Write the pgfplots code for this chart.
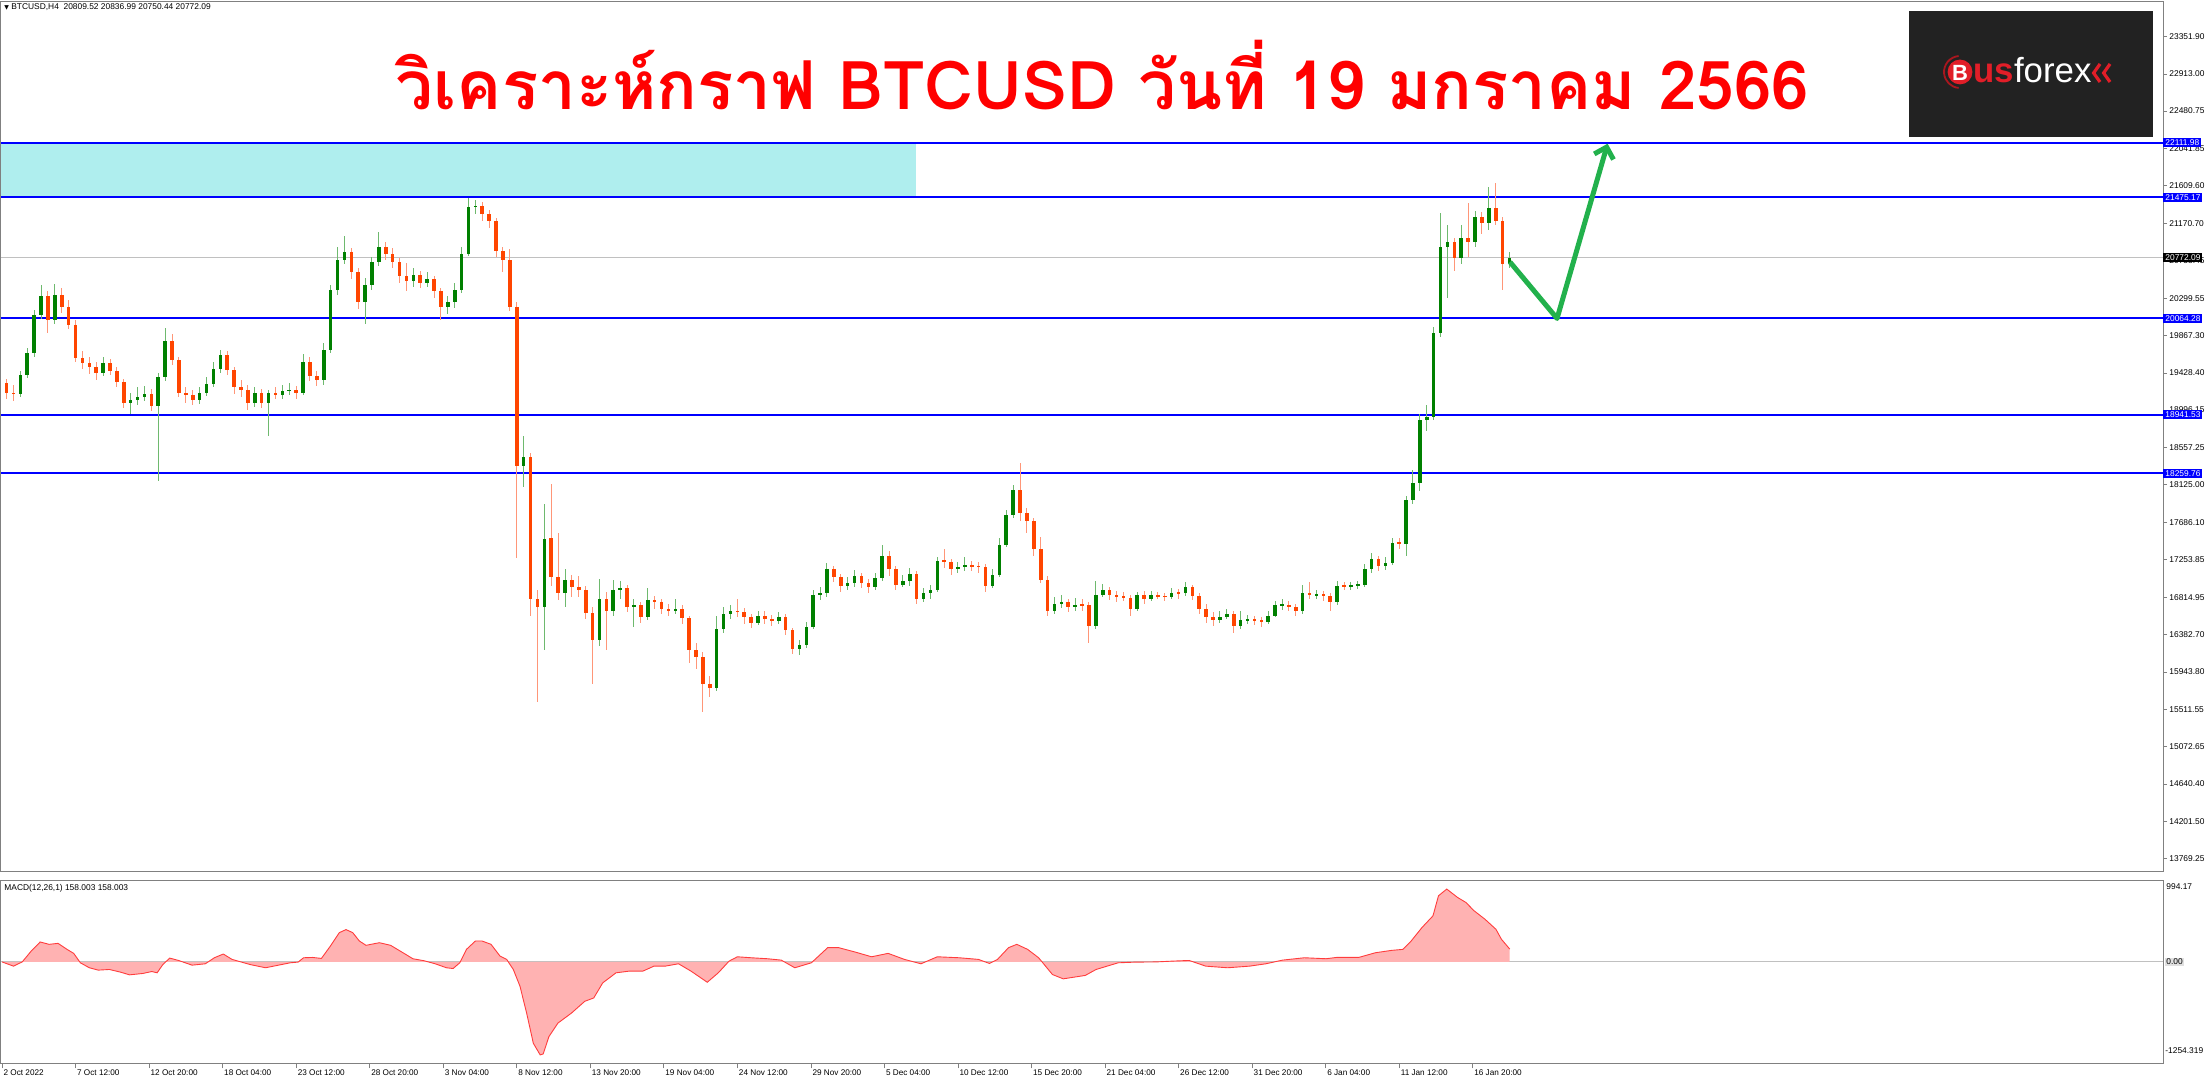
\documentclass[border=0pt]{standalone}
\usepackage{pgfplots}
\pgfplotsset{compat=1.18}
\usepackage{pgfplotstable}
\usepackage{fontspec}
\setmainfont{Liberation Sans}
\newfontfamily\thaifont[Script=Thai]{Loma}
\newfontfamily\dejavu{DejaVu Sans}
\usetikzlibrary{arrows.meta}
\definecolor{upbody}{RGB}{0,128,0}
\definecolor{upwick}{RGB}{110,185,110}
\definecolor{dnbody}{RGB}{255,69,0}
\definecolor{dnwick}{RGB}{255,150,120}
\definecolor{zone}{RGB}{175,238,238}
\definecolor{mtblue}{RGB}{0,0,255}
\definecolor{arrowgreen}{RGB}{34,177,76}
\definecolor{framegray}{RGB}{128,128,128}
\definecolor{logobg}{RGB}{34,34,34}
\definecolor{logored}{RGB}{225,30,40}
\definecolor{macdfill}{RGB}{255,178,178}
\definecolor{macdline}{RGB}{255,60,60}
\definecolor{titlered}{RGB}{255,0,0}
\definecolor{curgray}{RGB}{192,192,192}

\pgfplotstableread{
x o h l c
2 19310 19360 19120 19200
5 19200 19290 19100 19180
8 19180 19450 19150 19400
11 19400 19720 19370 19660
14 19660 20160 19620 20100
17 20100 20450 20060 20320
20 20320 20380 19900 20050
23 20050 20460 20000 20340
26 20340 20420 20130 20200
29 20200 20280 19940 19990
32 19990 20050 19560 19600
35 19600 19680 19480 19540
38 19540 19620 19420 19500
41 19500 19560 19350 19430
44 19430 19610 19390 19540
47 19540 19590 19400 19450
50 19450 19500 19260 19320
53 19320 19360 19020 19080
56 19080 19200 18950 19110
59 19110 19260 19060 19150
62 19150 19280 19100 19180
65 19180 19240 18980 19040
68 19040 19430 18170 19380
71 19380 19950 19330 19800
74 19800 19880 19520 19580
77 19580 19620 19150 19200
80 19200 19260 19080 19170
83 19170 19230 19050 19110
86 19110 19270 19070 19200
89 19200 19380 19160 19300
92 19300 19560 19260 19480
95 19480 19700 19430 19640
98 19640 19690 19410 19460
101 19460 19500 19180 19270
104 19270 19350 19150 19230
107 19230 19290 19000 19080
110 19080 19260 19030 19190
113 19190 19240 19020 19080
116 19080 19230 18690 19190
119 19190 19270 19120 19170
122 19170 19290 19130 19220
125 19220 19310 19170 19230
128 19230 19280 19120 19200
131 19200 19650 19170 19560
134 19560 19610 19330 19390
137 19390 19450 19280 19350
140 19350 19780 19290 19700
143 19700 20450 19660 20390
146 20390 20900 20340 20750
149 20750 21020 20700 20840
152 20840 20880 20520 20600
155 20600 20650 20180 20250
158 20250 20530 20000 20450
161 20450 20780 20400 20720
164 20720 21075 20680 20900
167 20900 20960 20740 20820
170 20820 20880 20650 20720
173 20720 20770 20480 20560
176 20560 20710 20380 20500
179 20500 20650 20430 20570
182 20570 20620 20420 20480
185 20480 20600 20430 20520
188 20520 20560 20300 20380
191 20380 20420 20050 20200
194 20200 20330 20120 20250
197 20250 20480 20190 20400
200 20400 20900 20360 20820
203 20820 21464 20790 21360
206 21360 21450 21280 21380
209 21380 21420 21200 21280
212 21280 21330 21120 21200
215 21200 21240 20780 20850
218 20850 20900 20600 20740
221 20740 20870 20150 20200
224 20200 20250 17270 18350
227 18350 18700 18100 18450
230 18450 18500 16600 16800
233 16800 16900 15600 16700
236 16700 17900 16200 17500
239 17500 18130 16950 17050
242 17050 17560 16780 16860
245 16860 17150 16700 17020
248 17020 17080 16820 16940
251 16940 17060 16820 16900
254 16900 16950 16560 16630
257 16630 16700 15810 16320
260 16320 17030 16250 16800
263 16800 16880 16200 16650
266 16650 17020 16600 16900
269 16900 17000 16800 16920
272 16920 16960 16640 16700
275 16700 16790 16470 16720
278 16720 16760 16520 16590
281 16590 16920 16550 16780
284 16780 16830 16680 16760
287 16760 16800 16620 16680
290 16680 16740 16600 16660
293 16660 16790 16620 16680
296 16680 16720 16500 16570
299 16570 16600 16050 16200
302 16200 16280 15980 16120
305 16120 16180 15482 15800
308 15800 15900 15650 15760
311 15760 16600 15720 16450
314 16450 16700 16400 16620
317 16620 16730 16560 16660
320 16660 16790 16590 16640
323 16640 16690 16500 16580
326 16580 16620 16460 16520
329 16520 16660 16490 16600
332 16600 16650 16500 16560
335 16560 16610 16480 16540
338 16540 16640 16500 16580
341 16580 16620 16380 16430
344 16430 16460 16150 16210
347 16210 16320 16140 16260
350 16260 16530 16230 16470
353 16470 16900 16440 16840
356 16840 16930 16780 16860
359 16860 17210 16820 17140
362 17140 17180 16990 17050
365 17050 17090 16880 16950
368 16950 17050 16900 16980
371 16980 17130 16940 17060
374 17060 17100 16920 16980
377 16980 17030 16860 16930
380 16930 17100 16900 17040
383 17040 17424 17010 17300
386 17300 17360 17060 17150
389 17150 17180 16900 16960
392 16960 17070 16930 17000
395 17000 17160 16950 17090
398 17090 17120 16740 16800
401 16800 16920 16760 16860
404 16860 16960 16800 16900
407 16900 17290 16880 17240
410 17240 17380 17160 17230
413 17230 17260 17080 17140
416 17140 17230 17100 17170
419 17170 17290 17120 17190
422 17190 17240 17120 17180
425 17180 17230 17100 17170
428 17170 17200 16880 16950
431 16950 17150 16920 17080
434 17080 17500 17050 17430
437 17430 17830 17400 17770
440 17770 18120 17740 18060
443 18060 18380 17700 17800
446 17800 17860 17560 17700
449 17700 17740 17300 17380
452 17380 17520 16980 17020
455 17020 17060 16600 16650
458 16650 16820 16620 16740
461 16740 16840 16690 16760
464 16760 16800 16640 16700
467 16700 16810 16660 16730
470 16730 16790 16650 16720
473 16720 16760 16280 16480
476 16480 17000 16440 16840
479 16840 16970 16820 16900
482 16900 16940 16780 16840
485 16840 16890 16760 16830
488 16830 16880 16770 16810
491 16810 16840 16600 16680
494 16680 16880 16650 16840
497 16840 16890 16740 16800
500 16800 16890 16770 16840
503 16840 16880 16790 16830
506 16830 16870 16770 16820
509 16820 16920 16790 16870
512 16870 16910 16800 16860
515 16860 16990 16830 16930
518 16930 16960 16780 16830
521 16830 16860 16620 16680
524 16680 16740 16520 16590
527 16590 16640 16480 16550
530 16550 16650 16520 16590
533 16590 16680 16560 16620
536 16620 16660 16400 16480
539 16480 16660 16450 16550
542 16550 16610 16500 16560
545 16560 16600 16490 16540
548 16540 16590 16470 16530
551 16530 16650 16500 16600
554 16600 16770 16580 16720
557 16720 16790 16670 16730
560 16730 16770 16650 16700
563 16700 16740 16600 16650
566 16650 16960 16620 16860
569 16860 16990 16800 16840
572 16840 16900 16790 16850
575 16850 16890 16770 16830
578 16830 16870 16660 16760
581 16760 17000 16730 16950
584 16950 16990 16900 16940
587 16940 16990 16900 16950
590 16950 17010 16910 16960
593 16960 17200 16930 17140
596 17140 17330 17100 17260
599 17260 17300 17120 17180
602 17180 17280 17130 17220
605 17220 17500 17190 17450
608 17450 17510 17380 17440
611 17440 18000 17300 17950
614 17950 18300 17900 18150
617 18150 18950 18050 18880
620 18880 19050 18750 18920
623 18920 19960 18880 19900
626 19900 21290 19850 20900
629 20900 21150 20300 20960
632 20960 21000 20620 20770
635 20770 21150 20700 21000
638 21000 21415 20780 20950
641 20950 21320 20900 21250
644 21250 21300 21050 21180
647 21180 21600 21100 21350
650 21350 21640 21150 21200
653 21200 21250 20400 20700
656 20700 20836.99 20650 20772.09
}\candles

\pgfplotstableread{
x m
0 0
5 -52
8.8 0
12.7 133
16.6 245
20.5 216
24.4 228
28.3 154
31.2 105
34.1 -11
38 -72
41.9 -101
46.7 -93
51.6 -126
55.5 -159
61.3 -142
65.2 -118
67.5 -134
70 -32
73 47
76.8 18
82.7 -40
88.5 -23
92.4 51
96.3 97
100.1 31
107.9 -32
114.7 -72
119.6 -44
125.4 -11
128.9 -2
131.2 51
135.1 55
139 43
142.9 195
146.8 360
149.7 397
152.6 360
155.5 257
158.4 204
164.2 236
169.1 204
174 121
178.8 39
183.7 14
188.5 -23
193.4 -72
196.3 -81
199.2 -11
202.1 154
206 257
208.9 257
212.8 216
216.7 72
219.6 31
222.5 -93
225.4 -299
228.3 -629
231.2 -999
234.2 -1143
235.5 -1131
238 -917
241.9 -752
247.8 -629
253.6 -484
257.5 -443
261.4 -258
267.2 -134
273 -113
278.9 -113
283.7 -52
288.6 -52
294.4 -23
299.8 -113
306.9 -250
311.7 -134
316.4 10
320 63
326 51
333.1 39
339.1 22
345 -72
352.2 -11
359.3 175
364.1 175
371.3 121
378.4 63
385.6 105
392.7 31
399.9 -23
407 63
416.5 51
424.9 31
429.7 -19
433.2 31
438 175
441.6 216
446.3 154
451.1 51
457.1 -155
461.8 -208
471.4 -166
476.1 -93
485.7 -11
492.8 -3
502.3 0
509.5 10
516.6 18
523.8 -52
533.3 -72
542.9 -52
550 -23
557.2 22
566.7 51
576.2 39
581 56
590.5 56
597.7 113
604.8 142
609.6 154
613.2 257
617.9 422
622.7 566
625.1 813
628.7 895
633.4 792
637 731
640.6 628
645.3 525
650.1 401
652.5 278
656.1 158
}\macd

\tikzset{pricelab/.style={anchor=west, inner xsep=1pt, inner ysep=0.7pt, text=white, font=\fontsize{4.2}{5}\selectfont}}
\pgfplotsset{candle/.style={draw=none, mark=none, forget plot, error bars/.cd, y dir=both, y explicit, error mark=none}}

\begin{document}
\begin{tikzpicture}[font=\fontsize{4.2}{5}\selectfont]
\useasboundingbox (0,0) rectangle (1104.5pt,540pt);

% ---------------- price pane ----------------
\begin{axis}[
  at={(0.5pt,104pt)}, anchor=south west,
  scale only axis, width=1081pt, height=435pt,
  xmin=-0.44, xmax=940.4, ymin=13614.2, ymax=23751.4,
  axis line style={framegray, line width=0.5pt},
  xtick=\empty,
  ytick={23351.90,22913.00,22480.75,22041.85,21609.60,21170.70,20738.45,20299.55,19867.30,19428.40,18996.15,18557.25,18125.00,17686.10,17253.85,16814.95,16382.70,15943.80,15511.55,15072.65,14640.40,14201.50,13769.25},
  yticklabels={23351.90,22913.00,22480.75,22041.85,21609.60,21170.70,20738.45,20299.55,19867.30,19428.40,18996.15,18557.25,18125.00,17686.10,17253.85,16814.95,16382.70,15943.80,15511.55,15072.65,14640.40,14201.50,13769.25},
  ytick pos=right, yticklabel pos=right,
  tick align=outside, major tick length=2pt,
  tick style={framegray, line width=0.4pt},
  yticklabel style={anchor=west, inner sep=0pt, xshift=1pt, font=\fontsize{4.2}{5}\selectfont},
  clip=false,
]
\fill[zone] (axis cs:-0.44,21475.17) rectangle (axis cs:397.7,22111.98);
\draw[curgray, line width=0.5pt] (axis cs:-0.44,20772.09) -- (axis cs:940.4,20772.09);
\draw[mtblue, line width=1pt] (axis cs:-0.44,22111.98) -- (axis cs:940.4,22111.98);
\draw[mtblue, line width=1pt] (axis cs:-0.44,21475.17) -- (axis cs:940.4,21475.17);
\draw[mtblue, line width=1pt] (axis cs:-0.44,20064.28) -- (axis cs:940.4,20064.28);
\draw[mtblue, line width=1pt] (axis cs:-0.44,18941.53) -- (axis cs:940.4,18941.53);
\draw[mtblue, line width=1pt] (axis cs:-0.44,18259.76) -- (axis cs:940.4,18259.76);
% wicks
\addplot[candle, error bar style={draw=upwick, line width=0.5pt}]
  table[x=x, y expr={\thisrow{c}>=\thisrow{o} ? (\thisrow{h}+\thisrow{l})/2 : nan},
        y error expr={(\thisrow{h}-\thisrow{l})/2}] {\candles};
\addplot[candle, error bar style={draw=dnwick, line width=0.5pt}]
  table[x=x, y expr={\thisrow{c}<\thisrow{o} ? (\thisrow{h}+\thisrow{l})/2 : nan},
        y error expr={(\thisrow{h}-\thisrow{l})/2}] {\candles};
% bodies
\addplot[candle, error bar style={draw=upbody, line width=1.8pt}]
  table[x=x, y expr={\thisrow{c}>=\thisrow{o} ? (\thisrow{o}+\thisrow{c})/2 : nan},
        y error expr={max(abs(\thisrow{c}-\thisrow{o})/2,10)}] {\candles};
\addplot[candle, error bar style={draw=dnbody, line width=1.8pt}]
  table[x=x, y expr={\thisrow{c}<\thisrow{o} ? (\thisrow{o}+\thisrow{c})/2 : nan},
        y error expr={max(abs(\thisrow{c}-\thisrow{o})/2,10)}] {\candles};
% projection arrow
\addplot[arrowgreen, line width=2.5pt, line join=round, -{Straight Barb[length=5pt,width=10pt]}]
  coordinates {(656.2,20722) (676.7,20064) (698.7,22100)};
\coordinate (L1) at (axis cs:940.4,22111.98);
\coordinate (L2) at (axis cs:940.4,21475.17);
\coordinate (L3) at (axis cs:940.4,20772.09);
\coordinate (L4) at (axis cs:940.4,20064.28);
\coordinate (L5) at (axis cs:940.4,18941.53);
\coordinate (L6) at (axis cs:940.4,18259.76);
\end{axis}

\node[pricelab, fill=mtblue] at (L1) {22111.98};
\node[pricelab, fill=mtblue] at (L2) {21475.17};
\node[pricelab, fill=black] at (L3) {20772.09};
\node[pricelab, fill=mtblue] at (L4) {20064.28};
\node[pricelab, fill=mtblue] at (L5) {18941.53};
\node[pricelab, fill=mtblue] at (L6) {18259.76};

% ---------------- MACD pane ----------------
\begin{axis}[
  at={(0.5pt,8pt)}, anchor=south west,
  scale only axis, width=1081pt, height=91.5pt,
  xmin=-0.44, xmax=940.4, ymin=-1254.319, ymax=994.17,
  axis line style={framegray, line width=0.5pt},
  ytick=\empty,
  xtick={0,32,64,96,128,160,192,224,256,288,320,352,384,416,448,480,512,544,576,608,640},
  xticklabels={2 Oct 2022,7 Oct 12:00,12 Oct 20:00,18 Oct 04:00,23 Oct 12:00,28 Oct 20:00,3 Nov 04:00,8 Nov 12:00,13 Nov 20:00,19 Nov 04:00,24 Nov 12:00,29 Nov 20:00,5 Dec 04:00,10 Dec 12:00,15 Dec 20:00,21 Dec 04:00,26 Dec 12:00,31 Dec 20:00,6 Jan 04:00,11 Jan 12:00,16 Jan 20:00},
  xtick pos=left, tick align=outside, major tick length=2.2pt,
  tick style={framegray, line width=0.4pt},
  xticklabel style={anchor=north west, inner sep=0pt, xshift=0.6pt, yshift=-0.6pt, font=\fontsize{4.1}{5}\selectfont},
  clip=false,
]
\draw[curgray, line width=0.5pt] (axis cs:-0.44,0) -- (axis cs:940.4,0);
\addplot[draw=none, fill=macdfill] table[x=x, y=m] {\macd} \closedcycle;
\addplot[macdline, line width=0.45pt] table[x=x, y=m] {\macd};
\end{axis}

% MACD scale labels
\node[anchor=north west, inner sep=0pt] at (1083pt,98.3pt) {994.17};
\node[anchor=west, inner xsep=0.5pt, inner ysep=0.4pt, fill=black!12] at (1082.5pt,59pt) {0.00};
\node[anchor=south west, inner sep=0pt] at (1082.5pt,13.2pt) {-1254.319};

% header texts
\node[anchor=west, inner sep=0pt] at (2pt,536.5pt) {{\dejavu\fontsize{3}{4}\selectfont ▼}\ BTCUSD,H4\ \ 20809.52 20836.99 20750.44 20772.09};
\node[anchor=west, inner sep=0pt] at (2pt,96pt) {MACD(12,26,1) 158.003 158.003};

% title
\node[anchor=base, inner sep=0pt] at (551.25pt,485pt)
  {\resizebox{706.5pt}{!}{\thaifont\bfseries\fontsize{40}{48}\selectfont\color{titlered}วิเคราะห์กราฟ BTCUSD วันที่ 19 มกราคม 2566}};

% logo
\fill[logobg] (954.5pt,471.5pt) rectangle (1076.5pt,534.5pt);
\draw[logored!75!black, line width=0.9pt] (980pt,504pt) ++(95:8pt) arc (95:265:8pt);
\fill[logored] (980pt,504pt) circle (6.2pt);
\node[text=white, inner sep=0pt, font=\bfseries\fontsize{11}{11}\selectfont] at (980pt,503.6pt) {B};
\node[anchor=base west, inner sep=0pt] at (986.5pt,498.5pt)
  {\resizebox{59pt}{!}{\fontsize{17}{17}\selectfont\textcolor{logored}{\bfseries us}\textcolor{white}{forex}}};
\draw[logored, line width=1.6pt] (1050pt,508pt) -- (1046.8pt,503.5pt) -- (1050pt,499pt);
\draw[logored, line width=1.6pt] (1055pt,508pt) -- (1051.8pt,503.5pt) -- (1055pt,499pt);
\end{tikzpicture}
\end{document}
